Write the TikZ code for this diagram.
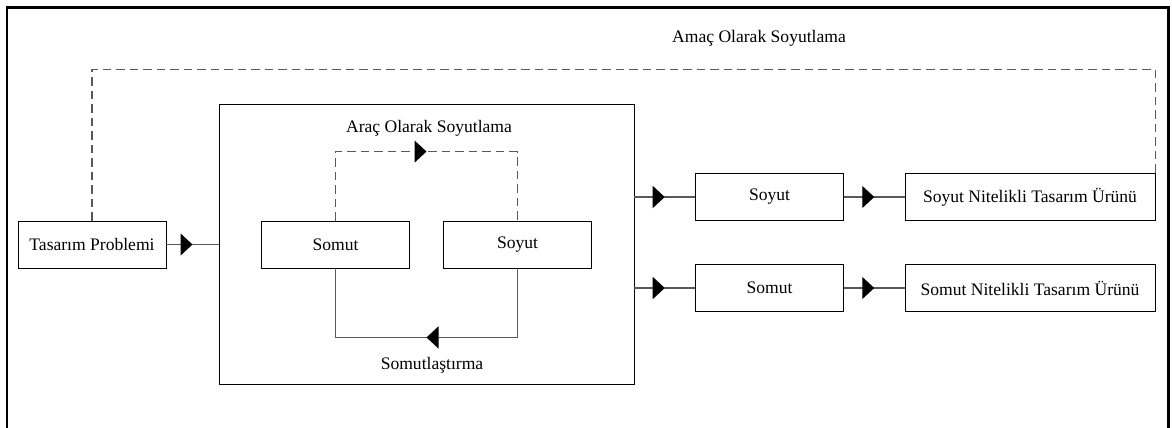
\documentclass[tikz,border=0pt]{standalone}
\usepackage{fontspec}
\setmainfont{Liberation Serif}
\usetikzlibrary{arrows.meta,decorations.markings}
\begin{document}
\begin{tikzpicture}[x=0.02cm,y=-0.02cm,
    box/.style={draw,line width=0.5pt,minimum width=2.96cm,minimum height=0.94cm},
    wbox/.style={box,minimum width=5cm},
    conn/.style={draw=black!65,line width=0.7pt},
    midarrow/.style={postaction={decorate},decoration={markings,
      mark=at position 0.5 with {\arrow[black]{Triangle[length=0.24cm,width=0.44cm]}}}},
    dashline/.style={dash pattern=on 0.17cm off 0.1cm}]
    \useasboundingbox (0,0) rectangle (1172,428);
    \draw[line width=1.7pt] (7,440) -- (7,8) -- (1168,8) -- (1168,440);

    \node[box] (tp) at (92,244.5) {Tasarım Problemi};
    \node[draw,line width=0.5pt,minimum width=8.3cm,minimum height=5.6cm] (arac) at (426.5,244.5) {};
    \node[box] (isomut) at (335.5,244.5) {Somut};
    \node[box] (isoyut) at (517.5,244.5) {Soyut};
    \node[box] (dsoyut) at (769.5,197) {Soyut};
    \node[box] (dsomut) at (769.5,288) {Somut};
    \node[wbox] (usoyut) at (1030,197) {Soyut Nitelikli Tasarım Ürünü};
    \node[wbox] (usomut) at (1030,288) {Somut Nitelikli Tasarım Ürünü};

    \node (amac) at (759,38) {Amaç Olarak Soyutlama};
    \node (aracl) at (429,128) {Araç Olarak Soyutlama};
    \node (somutl) at (432,365) {Somutlaştırma};

    \path[conn,midarrow] (tp.east) -- (arac.west |- tp.east);
    \path[conn,midarrow] (arac.east |- dsoyut.west) -- (dsoyut.west);
    \path[conn,midarrow] (arac.east |- dsomut.west) -- (dsomut.west);
    \path[conn,midarrow] (dsoyut.east) -- (usoyut.west);
    \path[conn,midarrow] (dsomut.east) -- (usomut.west);
    \path[conn,dashline,midarrow] (isomut.north) -- ++(0,-69) -| (isoyut.north);
    \path[conn,midarrow] (isoyut.south) -- ++(0,69) -| (isomut.south);
    \path[conn,dashline] (tp.north) -- ++(0,-151) -| (usoyut.north east);
  \end{tikzpicture}
\end{document}
